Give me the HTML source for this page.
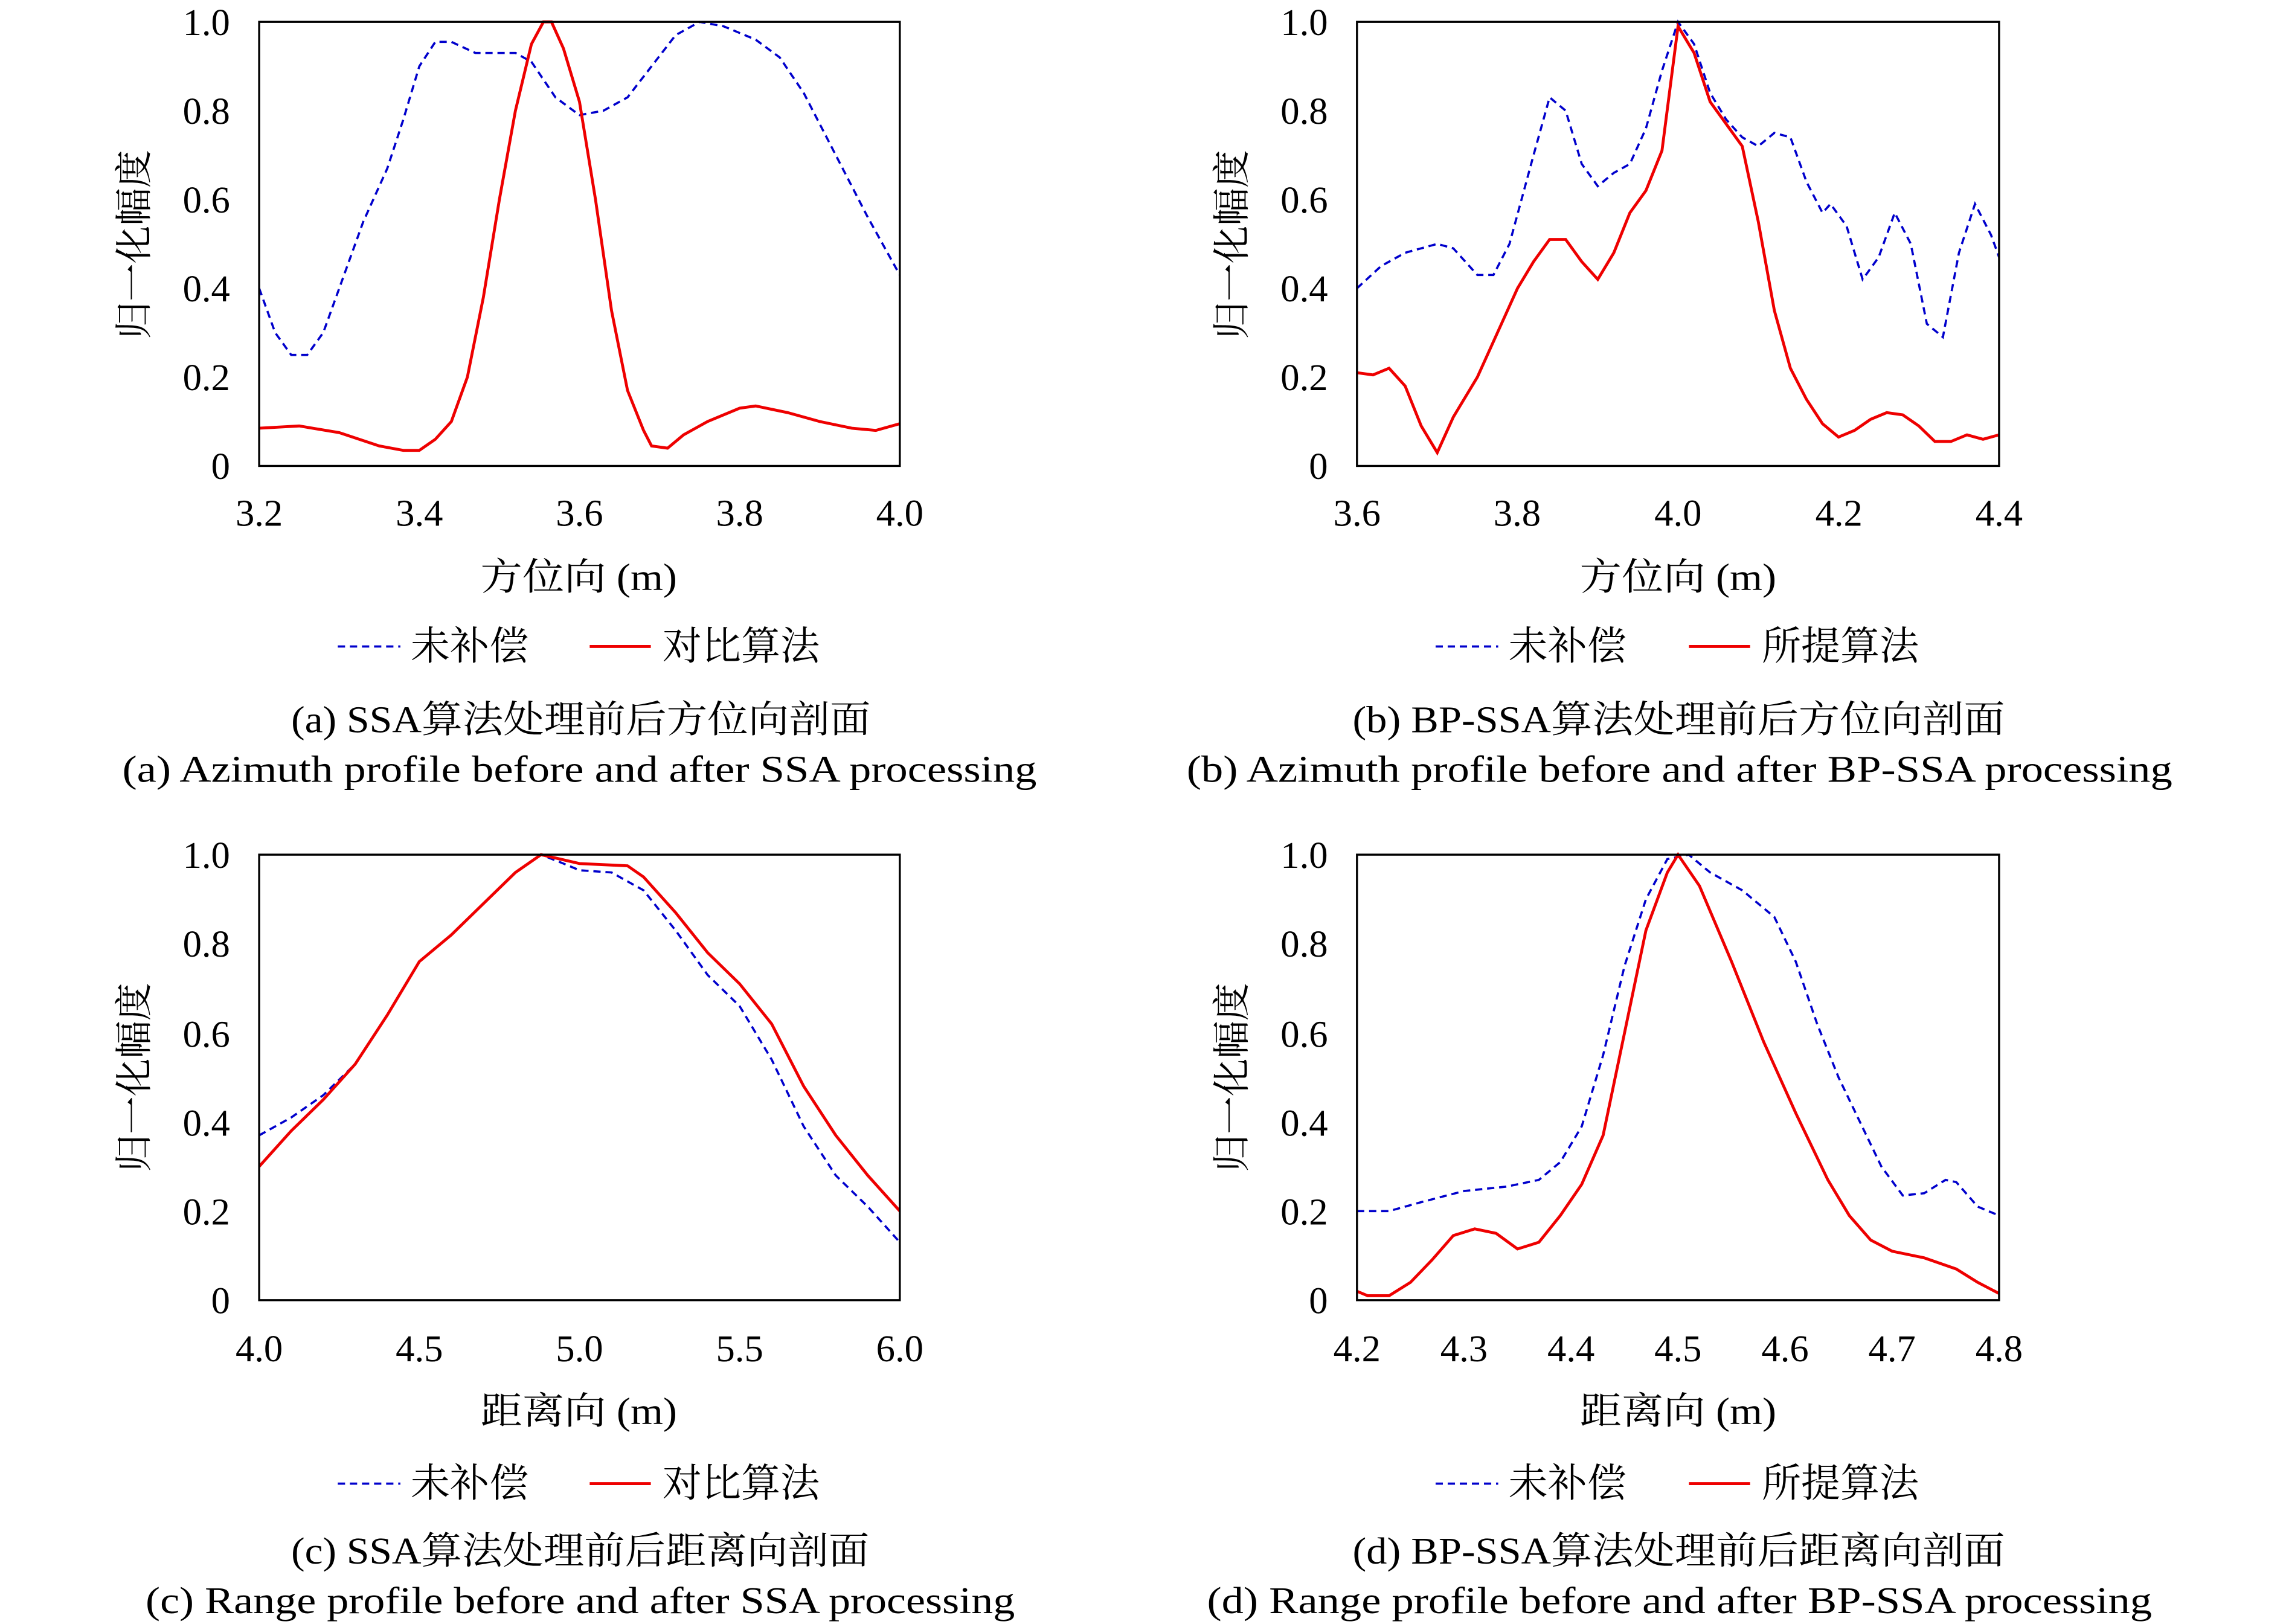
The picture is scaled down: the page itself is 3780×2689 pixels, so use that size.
<!DOCTYPE html>
<html><head><meta charset="utf-8"><style>
html,body{margin:0;padding:0;background:#fff;}
svg{display:block;}
text{font-family:"Liberation Serif","Noto Serif CJK SC",serif;fill:#000;}
.t{font-size:26px;}
.c{font-size:26px;}
.l{font-size:27px;}
.blue{fill:none;stroke:#0000cc;stroke-width:3.6;stroke-dasharray:12 8;}
.red{fill:none;stroke:#ee0000;stroke-width:4.8;}
.lb{fill:none;stroke:#0000cc;stroke-width:1.5;stroke-dasharray:5 3.3;}
.lr{fill:none;stroke:#ee0000;stroke-width:2;}
.ax{fill:none;stroke:#000;stroke-width:1.4;}
</style></head><body>
<svg width="3780" height="2689" viewBox="0 0 1568 1115.4" xmlns="http://www.w3.org/2000/svg">
<rect x="0" y="0" width="1568" height="1115.4" fill="#fff"/>

<!-- Panel a -->
<g>
<g transform="translate(178,320) scale(550,-305) translate(-3.2,0)">
<polyline vector-effect="non-scaling-stroke" class="blue" points="3.2,0.40 3.22,0.30 3.24,0.25 3.26,0.25 3.28,0.30 3.30,0.40 3.33,0.55 3.36,0.67 3.38,0.78 3.40,0.90 3.42,0.955 3.44,0.955 3.47,0.93 3.50,0.93 3.52,0.93 3.54,0.91 3.57,0.83 3.60,0.79 3.63,0.80 3.66,0.83 3.69,0.90 3.72,0.97 3.75,1.0 3.78,0.99 3.82,0.96 3.85,0.92 3.88,0.84 3.92,0.70 3.96,0.56 4.0,0.43"/>
<polyline vector-effect="non-scaling-stroke" class="red" points="3.2,0.085 3.25,0.09 3.3,0.075 3.35,0.045 3.38,0.035 3.40,0.035 3.42,0.06 3.44,0.10 3.46,0.20 3.48,0.38 3.50,0.60 3.52,0.80 3.54,0.95 3.555,1.0 3.565,1.0 3.58,0.94 3.60,0.82 3.62,0.60 3.64,0.35 3.66,0.17 3.68,0.08 3.69,0.045 3.71,0.04 3.73,0.07 3.76,0.10 3.80,0.13 3.82,0.135 3.86,0.12 3.90,0.10 3.94,0.085 3.97,0.08 4.0,0.095"/>
</g>
<rect class="ax" x="178" y="15" width="440" height="305"/>
<g class="t" text-anchor="end">
<text x="158" y="24">1.0</text><text x="158" y="85">0.8</text><text x="158" y="146">0.6</text><text x="158" y="207">0.4</text><text x="158" y="268">0.2</text><text x="158" y="329">0</text>
</g>
<g class="t" text-anchor="middle">
<text x="178" y="361">3.2</text><text x="288" y="361">3.4</text><text x="398" y="361">3.6</text><text x="508" y="361">3.8</text><text x="618" y="361">4.0</text>
</g>
<text class="c" x="330" y="405" textLength="135" lengthAdjust="spacingAndGlyphs">方位向 (m)</text>
<text class="c" transform="translate(101,168) rotate(-90)" text-anchor="middle">归一化幅度</text>
<line x1="232" y1="444" x2="275" y2="444" class="lb"/><text class="l" x="282" y="453">未补偿</text>
<line x1="405" y1="444" x2="447" y2="444" class="lr"/><text class="l" x="455" y="453">对比算法</text>
<text class="c" x="200" y="503" textLength="398" lengthAdjust="spacingAndGlyphs">(a) SSA算法处理前后方位向剖面</text>
<text class="c" x="84" y="537" textLength="628" lengthAdjust="spacingAndGlyphs">(a) Azimuth profile before and after SSA processing</text>
</g>

<!-- Panel b -->
<g>
<g transform="translate(932,320) scale(551.25,-305) translate(-3.6,0)">
<polyline vector-effect="non-scaling-stroke" class="blue" points="3.6,0.40 3.63,0.45 3.66,0.48 3.7,0.50 3.72,0.49 3.75,0.43 3.77,0.43 3.79,0.50 3.82,0.70 3.84,0.83 3.86,0.80 3.88,0.68 3.9,0.63 3.92,0.66 3.94,0.68 3.96,0.76 3.98,0.89 4.0,1.0 4.02,0.95 4.04,0.84 4.06,0.78 4.08,0.74 4.1,0.72 4.12,0.75 4.14,0.74 4.16,0.64 4.18,0.57 4.19,0.59 4.21,0.54 4.23,0.42 4.25,0.47 4.27,0.57 4.29,0.50 4.31,0.32 4.33,0.29 4.35,0.48 4.37,0.59 4.39,0.52 4.4,0.47"/>
<polyline vector-effect="non-scaling-stroke" class="red" points="3.6,0.21 3.62,0.205 3.64,0.22 3.66,0.18 3.68,0.09 3.70,0.03 3.72,0.11 3.75,0.20 3.78,0.32 3.80,0.40 3.82,0.46 3.84,0.51 3.86,0.51 3.88,0.46 3.90,0.42 3.92,0.48 3.94,0.57 3.96,0.62 3.98,0.71 4.0,0.99 4.02,0.93 4.04,0.82 4.06,0.77 4.08,0.72 4.10,0.55 4.12,0.35 4.14,0.22 4.16,0.15 4.18,0.095 4.2,0.065 4.22,0.08 4.24,0.105 4.26,0.12 4.28,0.115 4.30,0.09 4.32,0.055 4.34,0.055 4.36,0.07 4.38,0.06 4.4,0.07"/>
</g>
<rect class="ax" x="932" y="15" width="441" height="305"/>
<g class="t" text-anchor="end">
<text x="912" y="24">1.0</text><text x="912" y="85">0.8</text><text x="912" y="146">0.6</text><text x="912" y="207">0.4</text><text x="912" y="268">0.2</text><text x="912" y="329">0</text>
</g>
<g class="t" text-anchor="middle">
<text x="932" y="361">3.6</text><text x="1042" y="361">3.8</text><text x="1152.5" y="361">4.0</text><text x="1263" y="361">4.2</text><text x="1373" y="361">4.4</text>
</g>
<text class="c" x="1085" y="405" textLength="135" lengthAdjust="spacingAndGlyphs">方位向 (m)</text>
<text class="c" transform="translate(855,168) rotate(-90)" text-anchor="middle">归一化幅度</text>
<line x1="986" y1="444" x2="1029" y2="444" class="lb"/><text class="l" x="1036" y="453">未补偿</text>
<line x1="1160" y1="444" x2="1202" y2="444" class="lr"/><text class="l" x="1210" y="453">所提算法</text>
<text class="c" x="929" y="503" textLength="448" lengthAdjust="spacingAndGlyphs">(b) BP-SSA算法处理前后方位向剖面</text>
<text class="c" x="815" y="537" textLength="677" lengthAdjust="spacingAndGlyphs">(b) Azimuth profile before and after BP-SSA processing</text>
</g>

<!-- Panel c -->
<g>
<g transform="translate(178,893) scale(220,-306) translate(-4,0)">
<polyline vector-effect="non-scaling-stroke" class="blue" points="4.0,0.37 4.1,0.41 4.2,0.46 4.3,0.53 4.4,0.64 4.5,0.76 4.6,0.82 4.7,0.89 4.8,0.96 4.88,1.0 4.95,0.98 5.0,0.965 5.1,0.96 5.2,0.92 5.3,0.83 5.4,0.73 5.5,0.66 5.6,0.54 5.7,0.39 5.8,0.28 5.9,0.21 6.0,0.13"/>
<polyline vector-effect="non-scaling-stroke" class="red" points="4.0,0.30 4.1,0.38 4.2,0.45 4.3,0.53 4.4,0.64 4.5,0.76 4.6,0.82 4.7,0.89 4.8,0.96 4.88,1.0 5.0,0.98 5.15,0.975 5.2,0.95 5.3,0.87 5.4,0.78 5.5,0.71 5.6,0.62 5.7,0.48 5.8,0.37 5.9,0.28 6.0,0.20"/>
</g>
<rect class="ax" x="178" y="587" width="440" height="306"/>
<g class="t" text-anchor="end">
<text x="158" y="596">1.0</text><text x="158" y="657">0.8</text><text x="158" y="719">0.6</text><text x="158" y="780">0.4</text><text x="158" y="841">0.2</text><text x="158" y="902">0</text>
</g>
<g class="t" text-anchor="middle">
<text x="178" y="935">4.0</text><text x="288" y="935">4.5</text><text x="398" y="935">5.0</text><text x="508" y="935">5.5</text><text x="618" y="935">6.0</text>
</g>
<text class="c" x="330" y="978" textLength="135" lengthAdjust="spacingAndGlyphs">距离向 (m)</text>
<text class="c" transform="translate(101,740) rotate(-90)" text-anchor="middle">归一化幅度</text>
<line x1="232" y1="1019" x2="275" y2="1019" class="lb"/><text class="l" x="282" y="1028">未补偿</text>
<line x1="405" y1="1019" x2="447" y2="1019" class="lr"/><text class="l" x="455" y="1028">对比算法</text>
<text class="c" x="200" y="1074" textLength="397" lengthAdjust="spacingAndGlyphs">(c) SSA算法处理前后距离向剖面</text>
<text class="c" x="100" y="1108" textLength="597" lengthAdjust="spacingAndGlyphs">(c) Range profile before and after SSA processing</text>
</g>

<!-- Panel d -->
<g>
<g transform="translate(932,893) scale(735,-306) translate(-4.2,0)">
<polyline vector-effect="non-scaling-stroke" class="blue" points="4.2,0.20 4.23,0.20 4.26,0.22 4.3,0.245 4.34,0.255 4.37,0.27 4.39,0.31 4.41,0.39 4.43,0.55 4.45,0.75 4.47,0.90 4.49,0.99 4.51,1.0 4.53,0.96 4.56,0.92 4.59,0.86 4.61,0.76 4.63,0.62 4.65,0.50 4.67,0.40 4.69,0.30 4.71,0.235 4.73,0.24 4.75,0.27 4.76,0.265 4.78,0.21 4.8,0.19"/>
<polyline vector-effect="non-scaling-stroke" class="red" points="4.2,0.02 4.21,0.01 4.23,0.01 4.25,0.04 4.27,0.09 4.29,0.145 4.31,0.16 4.33,0.15 4.35,0.115 4.37,0.13 4.39,0.19 4.41,0.26 4.43,0.37 4.45,0.60 4.47,0.83 4.49,0.96 4.50,1.0 4.52,0.93 4.55,0.76 4.58,0.58 4.61,0.42 4.64,0.27 4.66,0.19 4.68,0.135 4.70,0.11 4.73,0.095 4.76,0.07 4.78,0.04 4.8,0.015"/>
</g>
<rect class="ax" x="932" y="587" width="441" height="306"/>
<g class="t" text-anchor="end">
<text x="912" y="596">1.0</text><text x="912" y="657">0.8</text><text x="912" y="719">0.6</text><text x="912" y="780">0.4</text><text x="912" y="841">0.2</text><text x="912" y="902">0</text>
</g>
<g class="t" text-anchor="middle">
<text x="932" y="935">4.2</text><text x="1005.5" y="935">4.3</text><text x="1079" y="935">4.4</text><text x="1152.5" y="935">4.5</text><text x="1226" y="935">4.6</text><text x="1299.5" y="935">4.7</text><text x="1373" y="935">4.8</text>
</g>
<text class="c" x="1085" y="978" textLength="135" lengthAdjust="spacingAndGlyphs">距离向 (m)</text>
<text class="c" transform="translate(855,740) rotate(-90)" text-anchor="middle">归一化幅度</text>
<line x1="986" y1="1019" x2="1029" y2="1019" class="lb"/><text class="l" x="1036" y="1028">未补偿</text>
<line x1="1160" y1="1019" x2="1202" y2="1019" class="lr"/><text class="l" x="1210" y="1028">所提算法</text>
<text class="c" x="929" y="1074" textLength="448" lengthAdjust="spacingAndGlyphs">(d) BP-SSA算法处理前后距离向剖面</text>
<text class="c" x="829" y="1108" textLength="649" lengthAdjust="spacingAndGlyphs">(d) Range profile before and after BP-SSA processing</text>
</g>
</svg>
</body></html>
